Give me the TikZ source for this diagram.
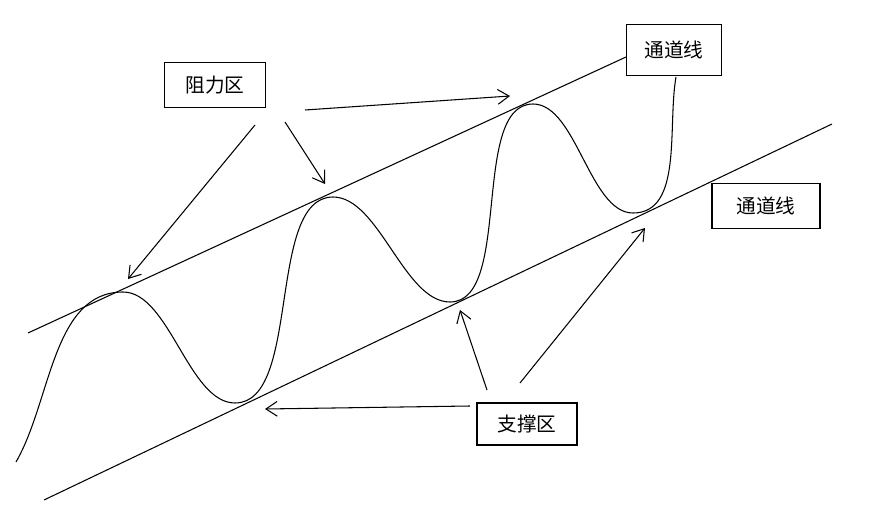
\documentclass[tikz,border=0pt]{standalone}
\usepackage{fontspec}
\newfontfamily\cjk{Noto Sans CJK SC}
\usetikzlibrary{arrows.meta}
\tikzset{
  labelbox/.style={draw, line width=0.35pt, inner sep=0pt, minimum height=0.45cm, font=\cjk\fontsize{5.6}{7}\selectfont},
  pointer/.style={line width=0.3pt, -{Straight Barb[length=3.2pt,width=4.2pt]}},
  channel/.style={line width=0.3pt}
}
\begin{document}
\begin{tikzpicture}[x=0.01cm,y=-0.01cm]
\useasboundingbox (0,0) rectangle (893,509);
% channel lines
\draw [channel] (28,333) -- (626,57);
\draw [channel] (44,500) -- (832,124);
% price curve
\draw [channel, looseness=0.75] (16,462) to[out=60,in=180,looseness=0.9] (123,292) to[out=0,in=180] (235,403)
  to[out=0,in=180] (333,197) to[out=0,in=180] (450,302)
  to[out=0,in=180] (533,104) to[out=0,in=180] (633,213) to[out=0,in=-100,looseness=0.9] (676,77);
% labels
\node [labelbox, minimum width=1.01cm] (resist) at (215,85) {阻力区};
\node [labelbox, minimum width=0.95cm, minimum height=0.51cm] (topline) at (674,50) {通道线};
\node [labelbox, minimum width=1.08cm] (sideline) at (766,206) {通道线};
\node [labelbox, minimum width=1.0cm, minimum height=0.42cm] (support) at (527,424) {支撑区};
% pointers
\coordinate (r1) at (128,279);
\coordinate (r2) at (325,184);
\coordinate (r3) at (510,96);
\coordinate (s1) at (265,409);
\coordinate (s2) at (460,310);
\coordinate (s3) at (645,228);
\draw [pointer] (255,125) -- (r1);
\draw [pointer] (285,122) -- (r2);
\draw [pointer] (305,110) -- (r3);
\draw [pointer] (470,406) -- (s1);
\draw [pointer] (487,390) -- (s2);
\draw [pointer] (520,383) -- (s3);
\end{tikzpicture}
\end{document}
